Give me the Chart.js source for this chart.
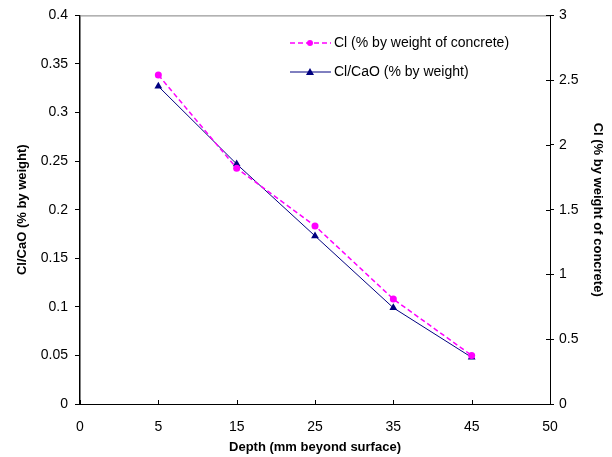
<!DOCTYPE html>
<html>
<head>
<meta charset="utf-8">
<script src="https://cdn.jsdelivr.net/npm/chart.js@4.4.1/dist/chart.umd.min.js"></script>
<style>
  html, body { margin: 0; padding: 0; background: #fff; }
  #wrap { width: 612px; height: 457px; }
</style>
</head>
<body>
<div id="wrap"><canvas id="chart" width="612" height="457"></canvas></div>
<script>
// depth categories (mm beyond surface)
const depthLabels = ['0', '5', '15', '25', '35', '45', '50'];
// Cl (% by weight of concrete) - right axis
const clConcrete = [null, 2.54, 1.82, 1.375, 0.81, 0.375, null];
// Cl/CaO (% by weight) - left axis
const clCaO = [null, 0.327, 0.247, 0.173, 0.099, 0.048, null];

const FONT = "'Liberation Sans', Arial, sans-serif";
const fmt = v => String(+Number(v).toFixed(2));

// inside tick marks + top frame + legend drawn inside plot
const extras = {
  id: 'extras',
  afterDraw(chart) {
    const ctx = chart.ctx;
    const a = chart.chartArea;
    ctx.save();
    // top frame line
    ctx.strokeStyle = '#808080';
    ctx.lineWidth = 1;
    ctx.beginPath();
    ctx.moveTo(a.left, a.top + 0.5);
    ctx.lineTo(a.right, a.top + 0.5);
    ctx.stroke();
    // x ticks pointing up
    ctx.strokeStyle = '#000';
    const xs = chart.scales.x;
    ctx.beginPath();
    for (let i = 0; i < depthLabels.length; i++) {
      const px = Math.round(xs.getPixelForTick(i)) + 0.5;
      ctx.moveTo(px, a.bottom);
      ctx.lineTo(px, a.bottom - 4);
    }
    // right axis ticks inner half
    const yr = chart.scales.y1;
    yr.ticks.forEach((t, i) => {
      const py = Math.round(yr.getPixelForTick(i)) + 0.5;
      ctx.moveTo(a.right, py);
      ctx.lineTo(a.right - 4, py);
    });
    ctx.stroke();

    // legend
    const rows = [
      { text: 'Cl (% by weight of concrete)', color: '#FF00FF', dash: [5, 3], style: 'circle', y: 43 },
      { text: 'Cl/CaO (% by weight)', color: '#000080', dash: [], style: 'triangle', y: 72 }
    ];
    ctx.font = '14px ' + FONT;
    ctx.textBaseline = 'middle';
    ctx.textAlign = 'left';
    rows.forEach(r => {
      ctx.strokeStyle = r.color;
      ctx.lineWidth = r.dash.length ? 1.5 : 1;
      ctx.setLineDash(r.dash);
      ctx.beginPath();
      ctx.moveTo(290, r.y);
      ctx.lineTo(331, r.y);
      ctx.stroke();
      ctx.setLineDash([]);
      ctx.fillStyle = r.color;
      ctx.beginPath();
      if (r.style === 'circle') {
        ctx.arc(310, r.y, 3, 0, Math.PI * 2);
      } else {
        ctx.moveTo(310, r.y - 4);
        ctx.lineTo(314, r.y + 3);
        ctx.lineTo(306, r.y + 3);
        ctx.closePath();
      }
      ctx.fill();
      ctx.fillStyle = '#000';
      ctx.fillText(r.text, 334, r.y);
    });
    ctx.restore();
  }
};

new Chart(document.getElementById('chart'), {
  type: 'line',
  data: {
    labels: depthLabels,
    datasets: [
      {
        label: 'Cl (% by weight of concrete)',
        data: clConcrete,
        yAxisID: 'y1',
        borderColor: '#FF00FF',
        backgroundColor: '#FF00FF',
        borderWidth: 1.5,
        borderDash: [5, 3],
        pointStyle: 'circle',
        pointRadius: 3.5,
        pointBorderWidth: 0,
        tension: 0,
        fill: false
      },
      {
        label: 'Cl/CaO (% by weight)',
        data: clCaO,
        yAxisID: 'y',
        borderColor: '#000080',
        backgroundColor: '#000080',
        borderWidth: 1,
        pointStyle: 'triangle',
        pointRadius: 4.5,
        pointBorderWidth: 0,
        tension: 0,
        fill: false
      }
    ]
  },
  options: {
    responsive: false,
    animation: false,
    layout: { padding: { top: 15, left: 0, right: 0, bottom: 0 } },
    plugins: {
      legend: { display: false },
      tooltip: { enabled: false }
    },
    scales: {
      x: {
        type: 'category',
        offset: false,
        afterFit: s => { s.height = 53; },
        grid: { drawOnChartArea: false, drawTicks: false },
        border: { display: true, color: '#000', width: 1 },
        ticks: { color: '#000', font: { family: FONT, size: 14 }, padding: 15, maxRotation: 0, autoSkip: false },
        title: {
          display: true, text: 'Depth (mm beyond surface)', color: '#000',
          font: { family: FONT, size: 13, weight: 'bold' }, padding: { top: 0, bottom: 2 }
        }
      },
      y: {
        position: 'left',
        min: 0, max: 0.4,
        afterFit: s => { s.width = 80; },
        grid: { drawOnChartArea: false, drawTicks: true, tickLength: 5, color: '#000' },
        border: { display: true, color: '#000', width: 1.5 },
        ticks: { stepSize: 0.05, color: '#000', font: { family: FONT, size: 14 }, padding: 7, callback: fmt },
        title: {
          display: true, text: 'Cl/CaO (% by weight)', color: '#000',
          font: { family: FONT, size: 13, weight: 'bold' }, padding: { top: 15, bottom: 0 }
        }
      },
      y1: {
        position: 'right',
        min: 0, max: 3,
        afterFit: s => { s.width = 62; },
        grid: { drawOnChartArea: false, drawTicks: true, tickLength: 4, color: '#000' },
        border: { display: true, color: '#000', width: 1 },
        ticks: { stepSize: 0.5, color: '#000', font: { family: FONT, size: 14 }, padding: 5, callback: fmt },
        title: {
          display: true, text: 'Cl (% by weight of concrete)', color: '#000',
          font: { family: FONT, size: 13, weight: 'bold' }, padding: { top: 7, bottom: 0 }
        }
      }
    }
  },
  plugins: [extras]
});
</script>
</body>
</html>
